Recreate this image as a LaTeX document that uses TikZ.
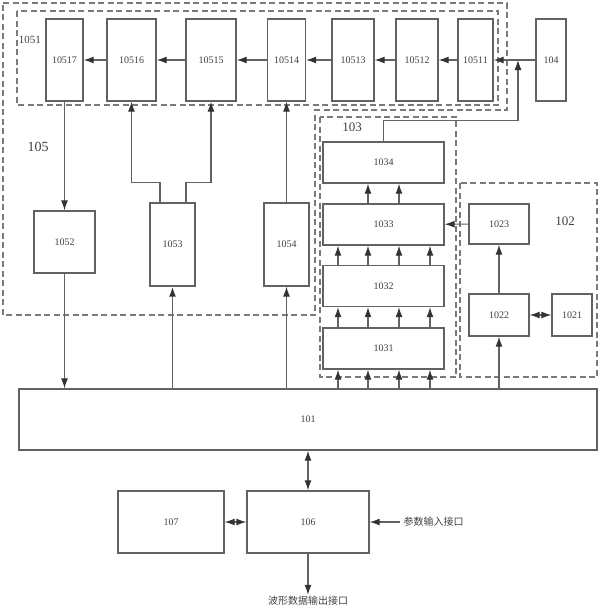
\documentclass[tikz,border=0pt]{standalone}
\usepackage{fontspec}
\setmainfont{Liberation Serif}
\newfontfamily\cjk{Noto Sans CJK SC}
\usetikzlibrary{arrows.meta}
\definecolor{linegray}{HTML}{626262}
\definecolor{textgray}{HTML}{404040}
\begin{document}
\begin{tikzpicture}[
    x=1pt, y=-1pt,
    blk/.style={
        rectangle,
        draw=linegray,
        line width=1.4pt,
        fill=white,
        inner sep=0pt,
        text=textgray,
        font=\fontsize{10}{11}\selectfont
    },
    grp/.style={
        draw=linegray!85,
        line width=1.6pt,
        dash pattern=on 6pt off 3.5pt
    },
    lbl/.style={text=textgray, font=\fontsize{13}{14}\selectfont},
    arrow/.style={-{Latex[length=10pt,width=7pt,color=black!80]}, linegray, line width=1.1pt},
    dblarrow/.style={{Latex[length=10pt,width=7pt,color=black!80]}-{Latex[length=10pt,width=7pt,color=black!80]}, linegray, line width=1.1pt}
]
\useasboundingbox (0,0) rectangle (600,611);

% dashed groups
\draw[grp] (3,3) -- (507,3) -- (507,110) -- (315,110) -- (315,315) -- (3,315) -- cycle;
\draw[grp] (17,11) rectangle (498,105);
\draw[grp] (320,117) rectangle (456,377);
\draw[grp] (460,183) rectangle (597,377);

\node[lbl, font=\fontsize{11}{12}\selectfont] (l1051) at (30,40) {1051};
\node[lbl, font=\fontsize{14}{15}\selectfont] (l105) at (38,147) {105};
\node[lbl] (l103) at (352,127) {103};
\node[lbl] (l102) at (565,221) {102};

% top row
\node[blk, minimum width=37, minimum height=82] (n10517) at (64.5,60) {10517};
\node[blk, minimum width=49, minimum height=82] (n10516) at (131.5,60) {10516};
\node[blk, minimum width=50, minimum height=82] (n10515) at (211,60) {10515};
\node[blk, minimum width=38, minimum height=82] (n10514) at (286.5,60) {10514};
\node[blk, minimum width=42, minimum height=82] (n10513) at (353,60) {10513};
\node[blk, minimum width=42, minimum height=82] (n10512) at (417,60) {10512};
\node[blk, minimum width=35, minimum height=82] (n10511) at (475.5,60) {10511};
\node[blk, minimum width=30, minimum height=82] (n104) at (551,60) {104};

% 105 blocks
\node[blk, minimum width=61, minimum height=62] (n1052) at (64.5,242) {1052};
\node[blk, minimum width=45, minimum height=83] (n1053) at (172.5,244.5) {1053};
\node[blk, minimum width=45, minimum height=83] (n1054) at (286.5,244.5) {1054};

% 103 blocks
\node[blk, minimum width=121, minimum height=41] (n1034) at (383.5,162.5) {1034};
\node[blk, minimum width=121, minimum height=41] (n1033) at (383.5,224.5) {1033};
\node[blk, minimum width=121, minimum height=41] (n1032) at (383.5,286) {1032};
\node[blk, minimum width=121, minimum height=41] (n1031) at (383.5,348.5) {1031};

% 102 blocks
\node[blk, minimum width=60, minimum height=40] (n1023) at (499,224) {1023};
\node[blk, minimum width=60, minimum height=42] (n1022) at (499,315) {1022};
\node[blk, minimum width=40, minimum height=42] (n1021) at (572,315) {1021};

% bottom
\node[blk, minimum width=578, minimum height=61] (n101) at (308,419.5) {101};
\node[blk, minimum width=106, minimum height=62] (n107) at (171,522) {107};
\node[blk, minimum width=122, minimum height=62] (n106) at (308,522) {106};
\node[text=textgray, font=\cjk\fontsize{10}{11}\selectfont, anchor=west] (in) at (400,522) {参数输入接口};
\node[text=textgray, font=\cjk\fontsize{10}{11}\selectfont] (out) at (308,601) {波形数据输出接口};

\coordinate (jn) at (518,60);

% top row chain
\draw[arrow] (n104) -- (n10511);
\draw[arrow] (n10511) -- (n10512);
\draw[arrow] (n10512) -- (n10513);
\draw[arrow] (n10513) -- (n10514);
\draw[arrow] (n10514) -- (n10515);
\draw[arrow] (n10515) -- (n10516);
\draw[arrow] (n10516) -- (n10517);

% 105
\draw[arrow] (n10517) -- (n1052);
\draw[arrow] (n1052) -- (n1052.south |- n101.north);
\draw[arrow, line width=1.6pt] (n1053.south |- n101.north) -- (n1053.south);
\draw[arrow] (n1054.south |- n101.north) -- (n1054.south);
\draw[arrow] (n1054) -- (n10514);
\draw[arrow] ([xshift=-12.5]n1053.north) -- ++(0,-20) -| (n10516.south);
\draw[arrow] ([xshift=13.5]n1053.north) -- ++(0,-20) -| (n10515.south);

% 103
\draw[arrow] (n1034.north) -- ++(0,-20.5) -| (jn);
\foreach \s in {-15.5,15.5}
    \draw[arrow] ([xshift=\s]n1033.north) -- ([xshift=\s]n1034.south);
\foreach \s in {-45.5,-15.5,15.5,46.5} {
    \draw[arrow] ([xshift=\s]n1032.north) -- ([xshift=\s]n1033.south);
    \draw[arrow] ([xshift=\s]n1031.north) -- ([xshift=\s]n1032.south);
    \draw[arrow] ([xshift=\s]n1031.south |- n101.north) -- ([xshift=\s]n1031.south);
}

% 102
\draw[arrow] (n1023) -- (n1033);
\draw[arrow] (n1022) -- (n1023);
\draw[dblarrow] (n1022) -- (n1021);
\draw[arrow] (n1022.south |- n101.north) -- (n1022.south);

% bottom
\draw[dblarrow] (n101) -- (n106);
\draw[dblarrow] (n107) -- (n106);
\draw[arrow] (in.west) -- (n106.east);
\draw[arrow] (n106) -- ([yshift=-2]out.north);

\end{tikzpicture}
\end{document}
